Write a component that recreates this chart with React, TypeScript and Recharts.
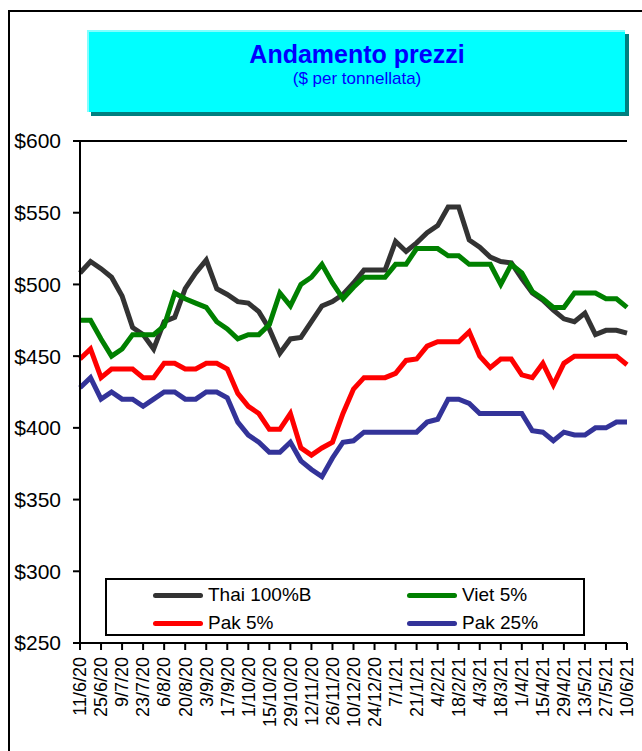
import React from "react";
import { LineChart, Line, XAxis, YAxis, CartesianGrid } from "recharts";

const dates = [
  "11/6/20", "18/6/20", "25/6/20", "2/7/20", "9/7/20", "16/7/20", "23/7/20", "30/7/20",
  "6/8/20", "13/8/20", "20/8/20", "27/8/20", "3/9/20", "10/9/20", "17/9/20", "24/9/20",
  "1/10/20", "8/10/20", "15/10/20", "22/10/20", "29/10/20", "5/11/20", "12/11/20", "19/11/20",
  "26/11/20", "3/12/20", "10/12/20", "17/12/20", "24/12/20", "31/12/20", "7/1/21", "14/1/21",
  "21/1/21", "28/1/21", "4/2/21", "11/2/21", "18/2/21", "25/2/21", "4/3/21", "11/3/21",
  "18/3/21", "25/3/21", "1/4/21", "8/4/21", "15/4/21", "22/4/21", "29/4/21", "6/5/21",
  "13/5/21", "20/5/21", "27/5/21", "3/6/21", "10/6/21",
];

const thai = [
  508, 516, 511, 505, 492, 470, 465, 455, 474, 477, 497, 508, 517, 497, 493, 488,
  487, 481, 469, 452, 462, 463, 474, 485, 488, 493, 501, 510, 510, 510, 530, 523,
  529, 536, 541, 554, 554, 531, 526, 519, 516, 515, 504, 494, 489, 482, 476, 474,
  480, 465, 468, 468, 466,
];

const viet = [
  475, 475, 462, 450, 455, 465, 465, 465, 471, 494, 490, 487, 484, 474, 469, 462,
  465, 465, 472, 494, 485, 500, 505, 514, 501, 490, 498, 505, 505, 505, 514, 514,
  525, 525, 525, 520, 520, 514, 514, 514, 500, 514, 508, 495, 490, 484, 484, 494,
  494, 494, 490, 490, 484,
];

const pak5 = [
  448, 455, 435, 441, 441, 441, 435, 435, 445, 445, 441, 441, 445, 445, 441, 424,
  415, 410, 399, 399, 410, 386, 381, 386, 390, 410, 427, 435, 435, 435, 438, 447,
  448, 457, 460, 460, 460, 467, 450, 442, 448, 448, 437, 435, 445, 430, 445, 450,
  450, 450, 450, 450, 444,
];

const pak25 = [
  428, 435, 420, 425, 420, 420, 415, 420, 425, 425, 420, 420, 425, 425, 421, 404,
  395, 390, 383, 383, 390, 377, 371, 366, 379, 390, 391, 397, 397, 397, 397, 397,
  397, 404, 406, 420, 420, 417, 410, 410, 410, 410, 410, 398, 397, 391, 397, 395,
  395, 400, 400, 404, 404,
];

const yTicks = [250, 300, 350, 400, 450, 500, 550, 600];

const series = [
  { key: "thai", name: "Thai 100%B", color: "#333333", values: thai },
  { key: "viet", name: "Viet 5%", color: "#008000", values: viet },
  { key: "pak5", name: "Pak 5%", color: "#FF0000", values: pak5 },
  { key: "pak25", name: "Pak 25%", color: "#333399", values: pak25 },
];

const data = dates.map((d, i) => {
  const row: Record<string, string | number> = { date: d };
  series.forEach((s) => {
    row[s.key] = s.values[i];
  });
  return row;
});

const FONT = '"Liberation Sans", Arial, sans-serif';

const XTick = (props: any) => {
  const { x, y, payload } = props;
  return (
    <g transform={`translate(${x},${y})`}>
      <text
        x={0}
        y={0}
        dy="0.35em"
        textAnchor="end"
        transform="rotate(-90)"
        fontSize={18}
        fontFamily={FONT}
        fill="#000"
      >
        {payload.value}
      </text>
    </g>
  );
};

export default function App() {
  return (
    <div
      style={{
        position: "absolute",
        left: 0,
        top: 0,
        width: 642,
        height: 751,
        overflow: "hidden",
        background: "#fff",
        fontFamily: FONT,
      }}
    >
      <div
        style={{
          position: "absolute",
          left: 8,
          top: 10,
          width: 800,
          height: 900,
          border: "2px solid #000",
        }}
      />
      <div style={{ position: "absolute", left: 0, top: 0 }}>
        <LineChart
          width={642}
          height={751}
          data={data}
          margin={{ top: 141, right: 15, bottom: 8, left: 0 }}
        >
          <CartesianGrid vertical={false} stroke="#000" strokeWidth={2} />
          <XAxis
            dataKey="date"
            interval={1}
            height={100}
            tickSize={7}
            tickMargin={7}
            axisLine={{ stroke: "#000", strokeWidth: 2 }}
            tickLine={{ stroke: "#000", strokeWidth: 2 }}
            tick={<XTick />}
          />
          <YAxis
            yAxisId="left"
            domain={[250, 600]}
            ticks={yTicks}
            width={80}
            tickSize={7}
            tickMargin={12}
            interval={0}
            axisLine={{ stroke: "#000", strokeWidth: 2 }}
            tickLine={{ stroke: "#000", strokeWidth: 2 }}
            tick={{ fill: "#000", fontSize: 21, fontFamily: FONT }}
            tickFormatter={(v: number) => `$${v}`}
          />
          <YAxis
            yAxisId="right"
            orientation="right"
            domain={[250, 600]}
            width={0}
            tick={false}
            tickLine={false}
            axisLine={{ stroke: "#000", strokeWidth: 2 }}
          />
          {series.map((s) => (
            <Line
              key={s.key}
              yAxisId="left"
              type="linear"
              dataKey={s.key}
              name={s.name}
              stroke={s.color}
              strokeWidth={5}
              dot={false}
              activeDot={false}
              isAnimationActive={false}
            />
          ))}
        </LineChart>
      </div>
      <div
        style={{
          position: "absolute",
          left: 87,
          top: 30,
          width: 538,
          height: 82,
          background: "#00FFFF",
          boxShadow: "4px 4px 0 #008080",
          borderTop: "2px solid #80FFFF",
          borderLeft: "2px solid #80FFFF",
          boxSizing: "border-box",
          textAlign: "center",
          color: "#0000FF",
        }}
      >
        <div style={{ fontSize: 25, fontWeight: "bold", marginTop: 8, lineHeight: "28px" }}>
          Andamento prezzi
        </div>
        <div style={{ fontSize: 17, lineHeight: "22px" }}>($ per tonnellata)</div>
      </div>
      <div
        style={{
          position: "absolute",
          left: 105,
          top: 578,
          width: 480,
          height: 58,
          background: "#fff",
          border: "2px solid #000",
          boxSizing: "border-box",
        }}
      >
        {series.map((s, i) => {
          const col = i % 2;
          const row = Math.floor(i / 2);
          return (
            <div
              key={s.key}
              style={{
                position: "absolute",
                left: col === 0 ? 46 : 300,
                top: row === 0 ? 3 : 31,
                height: 24,
                display: "flex",
                alignItems: "center",
                whiteSpace: "nowrap",
              }}
            >
              <div
                style={{
                  width: 50,
                  height: 5,
                  borderRadius: 3,
                  background: s.color,
                  marginRight: 5,
                }}
              />
              <span style={{ fontSize: 19, color: "#000" }}>{s.name}</span>
            </div>
          );
        })}
      </div>
    </div>
  );
}
